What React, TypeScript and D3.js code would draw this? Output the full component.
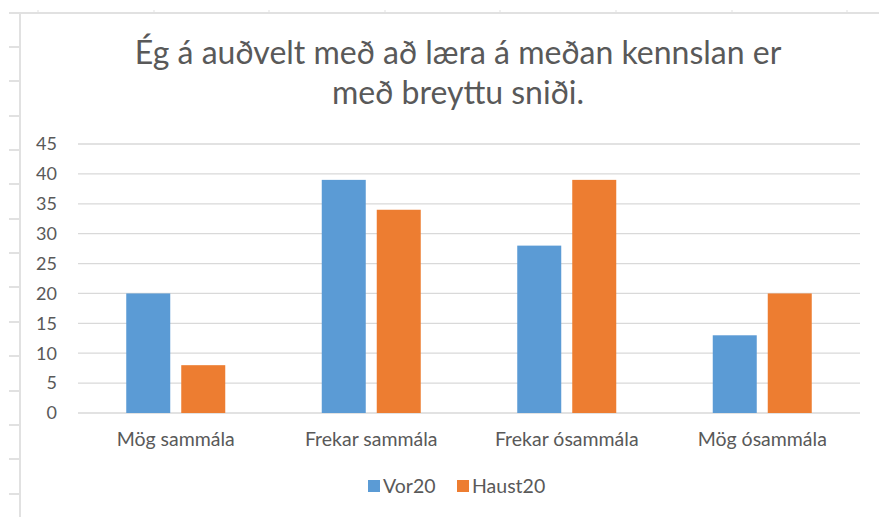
import React from "react";
import * as d3 from "d3";

const categories = ["Mög sammála", "Frekar sammála", "Frekar ósammála", "Mög ósammála"];
const seriesNames = ["Vor20", "Haust20"];
const vor20 = [20, 39, 28, 13];
const haust20 = [8, 34, 39, 20];
const yTicks = [0, 5, 10, 15, 20, 25, 30, 35, 40, 45];
const titleLines = ["Ég á auðvelt með að læra á meðan kennslan er", "með breyttu sniði."];

const W = 879;
const H = 517;
const colors = ["#5B9BD5", "#ED7D31"];
const textColor = "#595959";
const gridColor = "#D9D9D9";
const font = "Lato, 'Open Sans', sans-serif";

export default function App() {
  const plot = { left: 78, right: 860, top: 144, bottom: 413 };
  const x = d3.scaleBand<string>().domain(categories).range([plot.left, plot.right]);
  const y = d3.scaleLinear().domain([0, 45]).range([plot.bottom, plot.top]);
  const barW = 44;
  const innerGap = 11;
  const groupW = barW * 2 + innerGap;
  const series = [vor20, haust20];

  const rowTicks = d3.range(47, H, 34.35);
  const colTicks = d3.range(38, W, 115.6);

  return (
    <svg width={W} height={H} style={{ position: "absolute", left: 0, top: 0, background: "#fff" }}>
      {/* spreadsheet frame */}
      <line x1={9} x2={W} y1={13} y2={13} stroke="#E1E1E1" strokeWidth={2} />
      <line x1={20} x2={20} y1={12} y2={H} stroke="#E1E1E1" strokeWidth={2} />
      {rowTicks.map((ry, i) => (
        <line key={"r" + i} x1={9} x2={20} y1={Math.round(ry)} y2={Math.round(ry)} stroke="#E1E1E1" strokeWidth={2} />
      ))}
      {colTicks.map((cx, i) => (
        <line key={"c" + i} x1={Math.round(cx)} x2={Math.round(cx)} y1={10} y2={12} stroke="#E1E1E1" strokeWidth={1} />
      ))}

      {/* title */}
      {titleLines.map((t, i) => (
        <text
          key={i}
          x={458}
          y={64 + i * 40}
          textAnchor="middle"
          fontFamily={font}
          fontSize={32}
          fill={textColor}
        >
          {t}
        </text>
      ))}

      {/* gridlines */}
      {yTicks.map((t) => (
        <line key={t} x1={plot.left} x2={plot.right} y1={y(t)} y2={y(t)} stroke={gridColor} strokeWidth={1.3} />
      ))}
      {yTicks.map((t) => (
        <text
          key={"l" + t}
          x={57}
          y={y(t)}
          dy="0.35em"
          textAnchor="end"
          fontFamily={font}
          fontSize={18}
          fill={textColor}
        >
          {t}
        </text>
      ))}

      {/* bars */}
      {categories.map((c, ci) => {
        const x0 = (x(c) as number) + (x.bandwidth() - groupW) / 2;
        return series.map((s, si) => (
          <rect
            key={c + si}
            x={x0 + si * (barW + innerGap)}
            y={y(s[ci])}
            width={barW}
            height={y(0) - y(s[ci])}
            fill={colors[si]}
          />
        ));
      })}

      {/* category labels */}
      {categories.map((c) => (
        <text
          key={"cat" + c}
          x={(x(c) as number) + x.bandwidth() / 2}
          y={446}
          textAnchor="middle"
          fontFamily={font}
          fontSize={19.5}
          fill={textColor}
        >
          {c}
        </text>
      ))}

      {/* legend */}
      {seriesNames.map((n, i) => {
        const lx = [368, 457][i];
        return (
          <g key={n}>
            <rect x={lx} y={480} width={12} height={12} fill={colors[i]} />
            <text x={lx + 15} y={493} fontFamily={font} fontSize={19.5} fill={textColor}>
              {n}
            </text>
          </g>
        );
      })}
    </svg>
  );
}
